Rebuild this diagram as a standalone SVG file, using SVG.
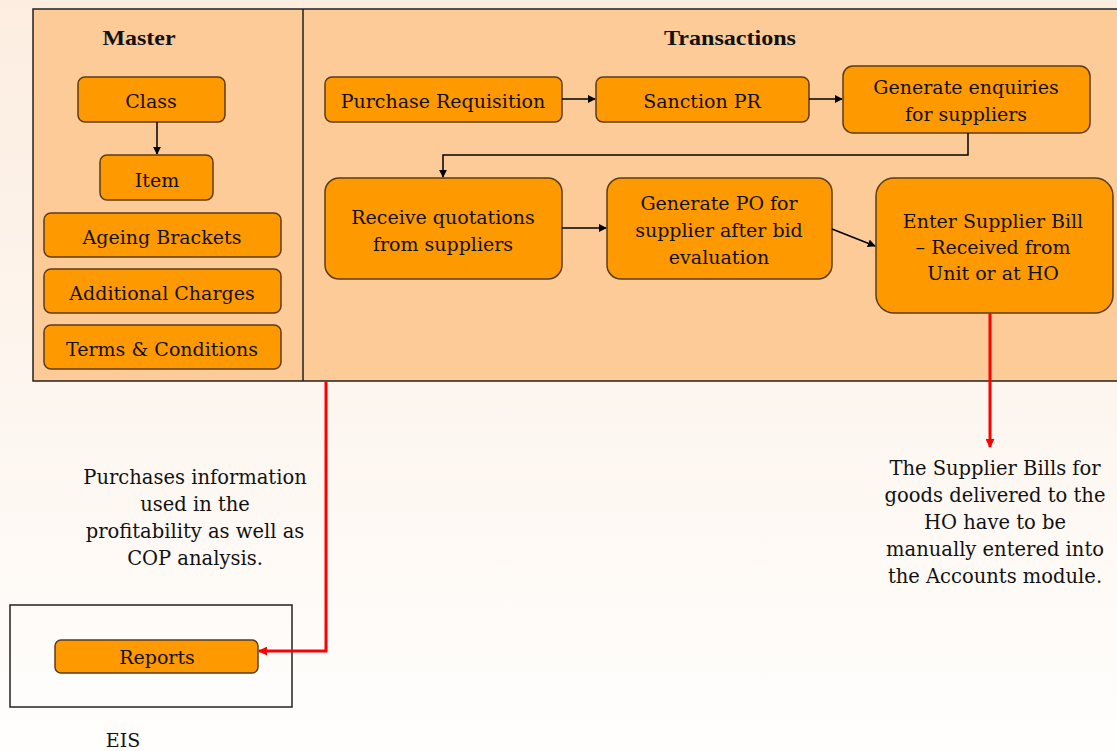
<svg xmlns="http://www.w3.org/2000/svg" width="1117" height="751" viewBox="0 0 1117 751">
<defs>
<linearGradient id="bg" x1="0" y1="0" x2="0" y2="1">
<stop offset="0" stop-color="#fcede0"/>
<stop offset="1" stop-color="#fffefd"/>
</linearGradient>
<marker id="ab" viewBox="0 0 10 10" refX="9" refY="5" markerWidth="8" markerHeight="8" orient="auto" markerUnits="userSpaceOnUse"><path d="M0,0 L10,5 L0,10 z" fill="#000"/></marker>
<marker id="ar" viewBox="0 0 10 10" refX="9" refY="5" markerWidth="9" markerHeight="9" orient="auto" markerUnits="userSpaceOnUse"><path d="M0,0 L10,5 L0,10 z" fill="#ff0000"/></marker>
</defs>
<style>
.box{fill:#ff9900;stroke:#5a3d1a;stroke-width:1.5}
.t{font-family:"DejaVu Serif","Liberation Serif",serif;font-size:19px;fill:#111;text-anchor:middle}
.n{font-size:19.5px}
.h{font-family:"Liberation Serif",serif;font-size:22px;font-weight:bold;fill:#111;text-anchor:middle}
.c{fill:none;stroke:#000;stroke-width:1.5}
.r{fill:none;stroke:#ff0000;stroke-width:3}
</style>
<rect x="0" y="0" width="1117" height="751" fill="url(#bg)"/>
<g id="panel">
<rect x="33" y="9" width="1090" height="372" fill="#fccb98" stroke="#222" stroke-width="1.5"/>
<line x1="303" y1="9" x2="303" y2="381" stroke="#222" stroke-width="1.5"/>
<text class="h" x="139" y="45" textLength="73" lengthAdjust="spacingAndGlyphs">Master</text>
<text class="h" x="730" y="45" textLength="132" lengthAdjust="spacingAndGlyphs">Transactions</text>
</g>
<g id="eis">
<rect x="10" y="605" width="282" height="102" fill="none" stroke="#222" stroke-width="1.5"/>
<text class="t" x="123" y="747">EIS</text>
</g>
<g id="n-class"><rect class="box" x="78" y="77" width="147" height="45" rx="7"/><text class="t" x="151" y="108">Class</text></g>
<g id="n-item"><rect class="box" x="100" y="155" width="113" height="45" rx="7"/><text class="t" x="157" y="187">Item</text></g>
<g id="n-ageing"><rect class="box" x="44" y="213" width="237" height="44" rx="7"/><text class="t" x="162" y="244">Ageing Brackets</text></g>
<g id="n-addl"><rect class="box" x="44" y="269" width="237" height="44" rx="7"/><text class="t" x="162" y="300">Additional Charges</text></g>
<g id="n-terms"><rect class="box" x="44" y="325" width="237" height="44" rx="7"/><text class="t" x="162" y="356">Terms &amp; Conditions</text></g>
<g id="n-pr"><rect class="box" x="325" y="77" width="237" height="45" rx="7"/><text class="t" x="443" y="108">Purchase Requisition</text></g>
<g id="n-sanction"><rect class="box" x="596" y="77" width="213" height="45" rx="7"/><text class="t" x="702" y="108">Sanction PR</text></g>
<g id="n-enq"><rect class="box" x="843" y="66" width="247" height="67" rx="10"/><text class="t" x="966" y="94">Generate enquiries</text><text class="t" x="966" y="121">for suppliers</text></g>
<g id="n-quot"><rect class="box" x="325" y="178" width="237" height="101" rx="14"/><text class="t" x="443" y="224">Receive quotations</text><text class="t" x="443" y="251">from suppliers</text></g>
<g id="n-po"><rect class="box" x="607" y="178" width="225" height="101" rx="14"/><text class="t" x="719" y="210">Generate PO for</text><text class="t" x="719" y="237">supplier after bid</text><text class="t" x="719" y="264">evaluation</text></g>
<g id="n-bill"><rect class="box" x="876" y="178" width="237" height="135" rx="18"/><text class="t" x="993" y="228">Enter Supplier Bill</text><text class="t" x="993" y="254">– Received from</text><text class="t" x="993" y="280">Unit or at HO</text></g>
<g id="n-reports"><rect class="box" x="55" y="640" width="203" height="33" rx="6"/><text class="t" x="157" y="664">Reports</text></g>
<g id="notes">
<text class="t n" x="195" y="484">Purchases information</text>
<text class="t n" x="195" y="511">used in the</text>
<text class="t n" x="195" y="538">profitability as well as</text>
<text class="t n" x="195" y="565">COP analysis.</text>
<text class="t n" x="995" y="475">The Supplier Bills for</text>
<text class="t n" x="995" y="502">goods delivered to the</text>
<text class="t n" x="995" y="529">HO have to be</text>
<text class="t n" x="995" y="556">manually entered into</text>
<text class="t n" x="995" y="583">the Accounts module.</text>
</g>
<g id="connectors">
<path class="c" d="M157,122 V154" marker-end="url(#ab)"/>
<path class="c" d="M562,99 H595" marker-end="url(#ab)"/>
<path class="c" d="M809,99 H842" marker-end="url(#ab)"/>
<path class="c" d="M968,133 V155 H443 V177" marker-end="url(#ab)"/>
<path class="c" d="M562,228 H606" marker-end="url(#ab)"/>
<path class="c" d="M832,229 L875,246" marker-end="url(#ab)"/>
<path class="r" d="M326,381 V651 H259" marker-end="url(#ar)"/>
<path class="r" d="M990,313 V447" marker-end="url(#ar)"/>
</g>
</svg>
